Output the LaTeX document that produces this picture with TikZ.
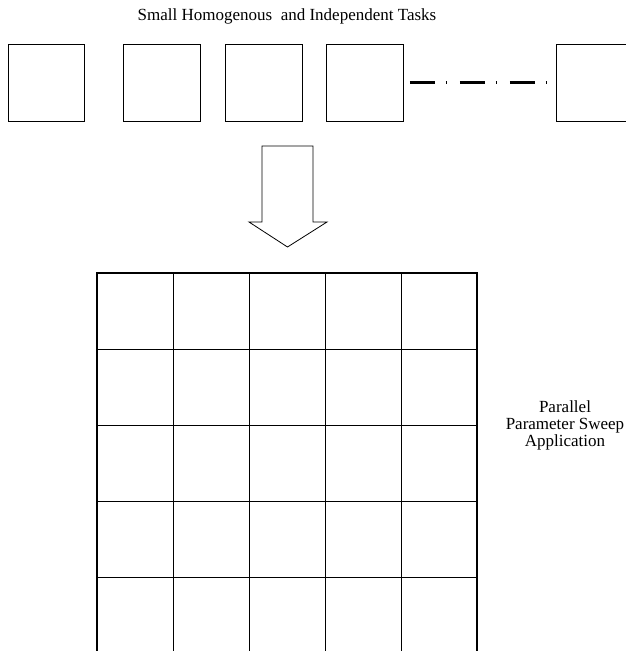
\documentclass[tikz,border=0pt]{standalone}
\usepackage{fontspec}
\setmainfont{Liberation Serif}
\usetikzlibrary{positioning}

\begin{document}
\begin{tikzpicture}[
  x=1pt, y=-1pt, font=\fontsize{17}{17}\selectfont,
  task/.style={draw, line width=0.8pt, minimum width=76.5pt, minimum height=77pt,
    inner sep=0pt},
  lbl/.style={inner sep=0pt, align=center},
  more/.style={line width=3pt, dash pattern=on 25pt off 11pt on 1.5pt off 12.5pt},
  cell/.style={line width=0.9pt},
  frame/.style={line width=2.4pt, line join=miter},
]
\useasboundingbox (0,0) rectangle (626,651);

% tasks
\node[lbl, anchor=base] (title) at (287,20) {Small Homogenous\ \ and Independent Tasks};
\node[task] (t1) at (46.25,82.5) {};
\node[task, right=38.5pt of t1] (t2) {};
\node[task, right=24.5pt of t2] (t3) {};
\node[task, right=23.5pt of t3] (t4) {};
\node[task, right=152.5pt of t4] (t5) {};
\draw[more] ([xshift=6.5pt]t4.east) -- ([xshift=-9.5pt]t5.west);

% big arrow
\draw[line width=0.8pt] (262,146) -- (313,146) -- (313,222) -- (327,222)
  -- (287.5,247) -- (249,222) -- (262,222) -- cycle;

% application grid
\draw[cell] foreach \x in {173,249,325,401} {(\x,273) -- (\x,655)};
\draw[cell] foreach \y in {349,425,501,577} {(97,\y) -- (477,\y)};
\draw[frame] (97,655) -- (97,273) -- (477,273) -- (477,655);
\node[lbl] (app) at (565,425) {Parallel\\Parameter Sweep\\Application};
\end{tikzpicture}
\end{document}
